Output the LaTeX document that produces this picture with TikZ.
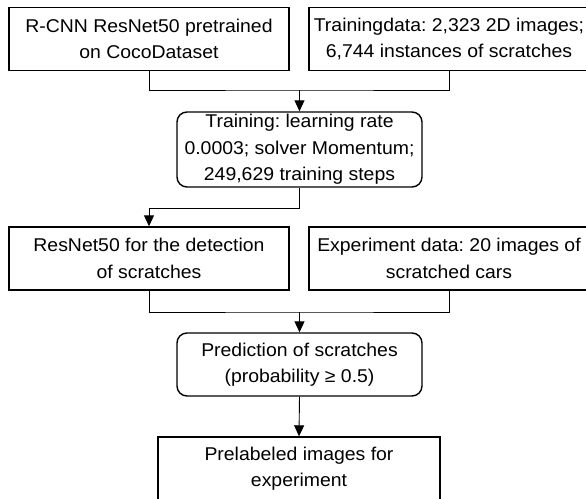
\documentclass[tikz,border=0pt]{standalone}
\usepackage{fontspec}
\setmainfont{Liberation Sans}[FakeStretch=1.05]
\usetikzlibrary{arrows.meta}
\begin{document}
\frenchspacing
\begin{tikzpicture}[x=1pt,y=-1pt,
  box/.style={draw, line width=1.4pt, align=center, inner sep=0pt,
    font=\fontsize{18.5}{26.5}\selectfont, minimum width=280pt, minimum height=63pt},
  rbox/.style={box, rounded corners=10pt, minimum width=245pt},
  conn/.style={line width=0.9pt},
  arr/.style={conn, -{Triangle[length=11pt,width=10pt]}}]
\useasboundingbox (0,0) rectangle (586,498);
\node[box] (b1) at (149,39) {R-CNN ResNet50 pretrained\\on CocoDataset};
\node[box] (b2) at (449,39) {Trainingdata: 2,323 2D images;\\6,744 instances of scratches};
\node[rbox, minimum height=75pt] (train) at (299.5,149.5) {Training: learning rate\\0.0003; solver Momentum;\\249,629 training steps};
\node[box] (b3) at (149,258.5) {ResNet50 for the detection\\of scratches};
\node[box] (b4) at (449,258.5) {Experiment data: 20 images of\\scratched cars};
\node[rbox] (pred) at (299.5,364.5) {Prediction of scratches\\(probability ≥ 0.5)};
\node[box, minimum width=282pt, minimum height=63pt] (fin) at (299,468.5) {Prelabeled images for\\experiment};
\coordinate (m1) at (299.5,90);
\coordinate (m2) at (149,208);
\coordinate (m3) at (299.5,312);
\draw[conn] (b1.south) |- (m1) -| (b2.south);
\draw[arr] (m1) -- (train.north);
\draw[arr] (train.south) |- (m2) -- (b3.north);
\draw[conn] (b3.south) |- (m3) -| (b4.south);
\draw[arr] (m3) -- (pred.north);
\draw[arr] (pred.south) -- (fin.north);
\end{tikzpicture}
\end{document}
